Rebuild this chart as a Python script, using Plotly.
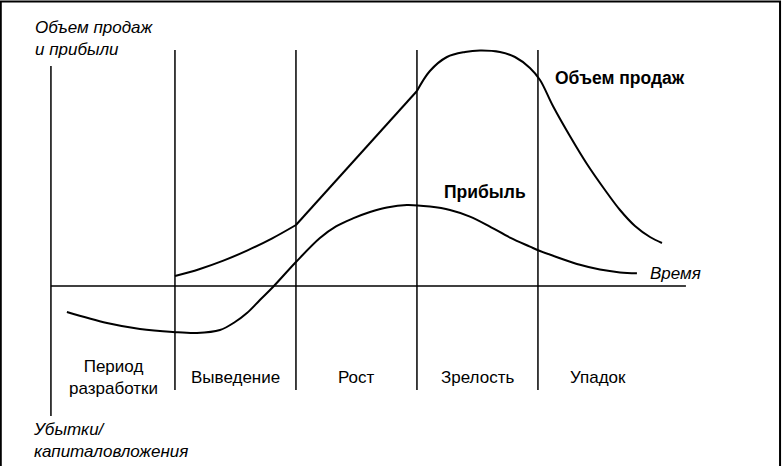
import plotly.graph_objects as go

# --- data (time in stage units, value in relative units) ---
stage_bounds = [1.0, 2.0, 3.0, 4.0]
stage_labels = ["Период<br>разработки", "Выведение", "Рост", "Зрелость", "Упадок"]
stage_centers = [0.49, 1.5, 2.5, 3.5, 4.5]

# Sales volume: introduction, growth (straight), maturity + decline
sales_intro_t = [1.0, 1.2, 1.4, 1.6, 1.8, 2.0]
sales_intro_v = [5, 8.4, 12.7, 17.8, 23.7, 30.5]
sales_growth_t = [2.0, 3.0]
sales_growth_v = [30.5, 97.5]
sales_late_t = [3.0, 3.107, 3.248, 3.397, 3.521, 3.686, 3.81, 3.934, 4.017,
                4.124, 4.264, 4.405, 4.554, 4.678, 4.802, 4.926, 5.025]
sales_late_v = [97.5, 107.5, 114.5, 117, 117.75, 117, 114.5, 109, 103,
                90, 75, 61, 48, 38, 30, 24.5, 21.5]

profit_t = [0.107, 0.438, 0.711, 0.983, 1.182, 1.372, 1.496, 1.595, 1.702, 1.81,
            2.0, 2.198, 2.331, 2.471, 2.612, 2.752, 2.917, 3.107, 3.273, 3.438, 3.603,
            3.769, 3.934, 4.017, 4.182, 4.347, 4.512, 4.678, 4.818]
profit_v = [-13, -18.5, -21.5, -23, -23.5, -22, -18, -13.5, -7, -0.5,
            12, 24, 29.8, 33.8, 37.0, 39.3, 40.5, 39.7, 38, 34.7, 29.7,
            24.2, 19.7, 17.5, 13.9, 10.6, 8.2, 6.8, 6.4]

axis_origin_t = -0.025
time_axis_end = 5.223
y_axis_top, y_axis_bottom = 110, -65
stage_line_top, stage_line_bottom = 118, -52

FONT = "Liberation Sans, Arial, sans-serif"
FS = 17

fig = go.Figure()

line_style = dict(color="black", width=1.5)
curve_style = dict(color="black", width=2, shape="spline", smoothing=1.0)

# y-axis line
fig.add_trace(go.Scatter(x=[axis_origin_t, axis_origin_t], y=[y_axis_bottom, y_axis_top],
                         mode="lines", line=line_style, hoverinfo="skip"))
# time axis
fig.add_trace(go.Scatter(x=[axis_origin_t, time_axis_end], y=[0, 0],
                         mode="lines", line=line_style, hoverinfo="skip"))
# stage boundaries
for b in stage_bounds:
    fig.add_trace(go.Scatter(x=[b, b], y=[stage_line_bottom, stage_line_top],
                             mode="lines", line=line_style, hoverinfo="skip"))

fig.add_trace(go.Scatter(x=sales_intro_t, y=sales_intro_v, mode="lines",
                         line=curve_style, name="Объем продаж"))
fig.add_trace(go.Scatter(x=sales_growth_t, y=sales_growth_v, mode="lines",
                         line=dict(color="black", width=2), name="Объем продаж"))
fig.add_trace(go.Scatter(x=sales_late_t, y=sales_late_v, mode="lines",
                         line=curve_style, name="Объем продаж"))
fig.add_trace(go.Scatter(x=profit_t, y=profit_v, mode="lines",
                         line=curve_style, name="Прибыль"))

# stage labels
for lbl, c in zip(stage_labels, stage_centers):
    fig.add_annotation(x=c, y=-45.5, text=lbl, showarrow=False,
                       font=dict(family=FONT, size=FS, color="black"),
                       xanchor="center", yanchor="middle", align="center")

# text labels
fig.add_annotation(x=-0.172, y=124, text="<i>Объем продаж<br>и прибыли</i>", showarrow=False,
                   font=dict(family=FONT, size=FS, color="black"),
                   xanchor="left", yanchor="middle", align="left")
fig.add_annotation(x=-0.192, y=-77, text="<i>Убытки/<br>капиталовложения</i>", showarrow=False,
                   font=dict(family=FONT, size=FS, color="black"),
                   xanchor="left", yanchor="middle", align="left")
fig.add_annotation(x=4.909, y=6.5, text="<i>Время</i>", showarrow=False,
                   font=dict(family=FONT, size=FS, color="black"),
                   xanchor="left", yanchor="middle")
fig.add_annotation(x=4.124, y=104, text="<b>Объем продаж</b>", showarrow=False,
                   font=dict(family=FONT, size=17.5, color="black"),
                   xanchor="left", yanchor="middle")
fig.add_annotation(x=3.205, y=47, text="<b>Прибыль</b>", showarrow=False,
                   font=dict(family=FONT, size=17.5, color="black"),
                   xanchor="left", yanchor="middle")

# outer frame
fig.add_shape(type="rect", xref="paper", yref="paper", x0=0.001, x1=0.9975, y0=-0.05, y1=0.997,
              line=dict(color="black", width=2), fillcolor="rgba(0,0,0,0)")

fig.update_layout(
    width=782, height=466,
    margin=dict(l=0, r=0, t=0, b=0),
    paper_bgcolor="white", plot_bgcolor="white",
    xaxis=dict(range=[-0.446, 6.017], visible=False, fixedrange=True),
    yaxis=dict(range=[-90, 143], visible=False, fixedrange=True),
    showlegend=False,
)

fig.write_html("out.html", config={"displayModeBar": False},
               post_script="document.body.style.margin='0';document.body.style.overflow='hidden';")
